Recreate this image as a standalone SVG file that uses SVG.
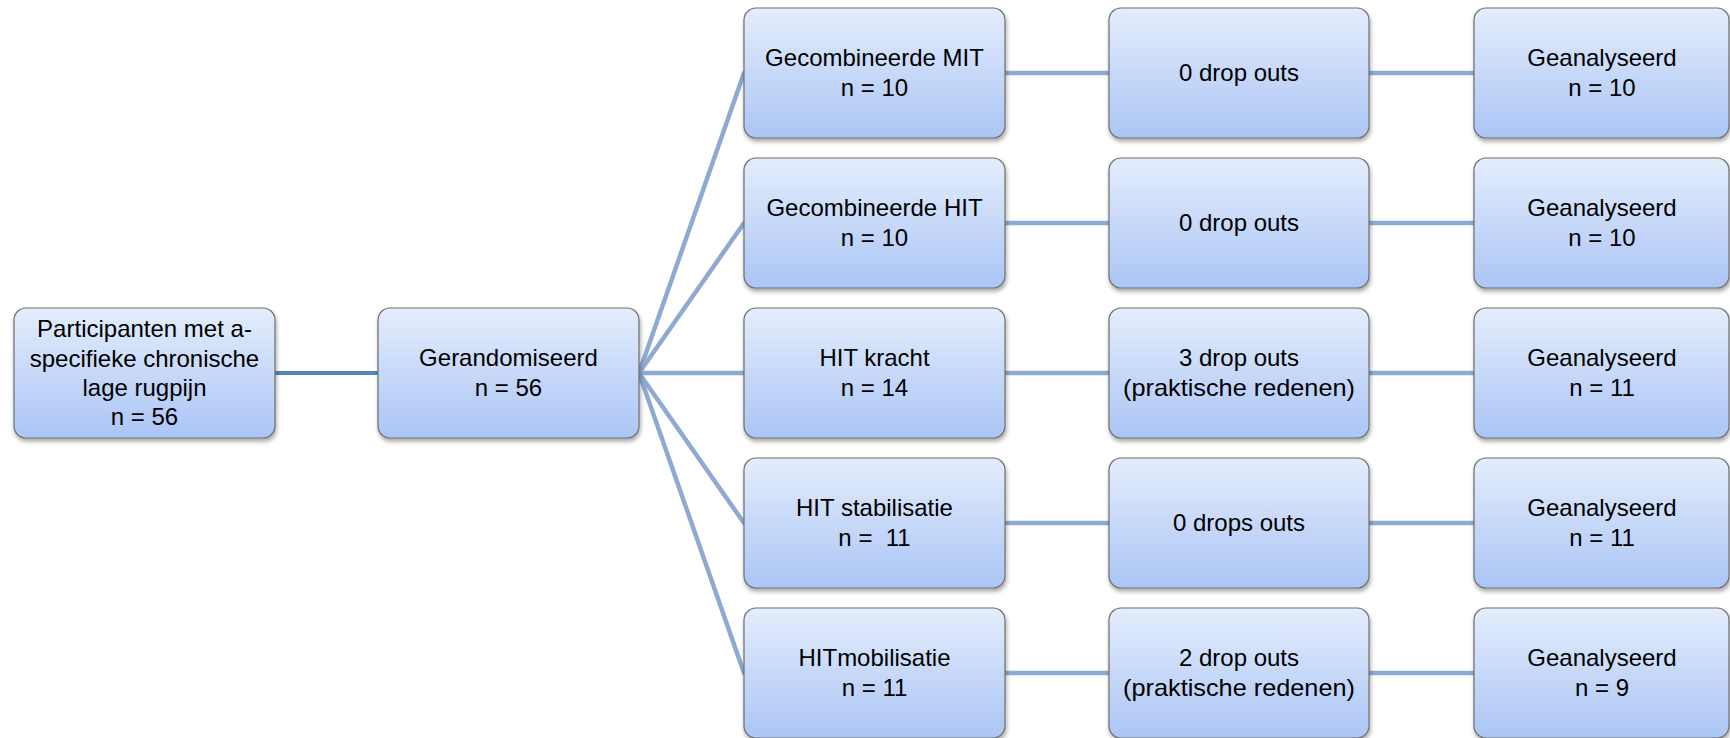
<svg xmlns="http://www.w3.org/2000/svg" width="1730" height="738" viewBox="0 0 1730 738">
<defs>
<linearGradient id="g" x1="0" y1="0" x2="0" y2="1">
<stop offset="0" stop-color="#E4EDFC"/>
<stop offset="1" stop-color="#ABC5F5"/>
</linearGradient>
<filter id="sh" x="-10%" y="-10%" width="120%" height="130%">
<feDropShadow dx="1" dy="3" stdDeviation="2.2" flood-color="#000" flood-opacity="0.35"/>
</filter>
</defs>
<style>
.box{fill:url(#g);stroke:#6E6E6E;stroke-width:1.2;filter:url(#sh)}
text{font-family:"Liberation Sans",Arial,sans-serif;font-size:24px;fill:#000;text-anchor:middle}
.c1{stroke:#5485C0;stroke-width:4;fill:none}
.c2{stroke:#8FAAD2;stroke-width:4.5;fill:none;stroke-linecap:round}
</style>
<rect width="1730" height="738" fill="#fff"/>
<g id="connectors">
<line class="c1" x1="275" y1="373" x2="378" y2="373"/>
<line class="c2" x1="639" y1="373" x2="744" y2="73"/>
<line class="c2" x1="639" y1="373" x2="744" y2="223"/>
<line class="c2" x1="639" y1="373" x2="744" y2="373"/>
<line class="c2" x1="639" y1="373" x2="744" y2="523"/>
<line class="c2" x1="639" y1="373" x2="744" y2="673"/>
<line class="c2" x1="1005" y1="73" x2="1109" y2="73"/>
<line class="c2" x1="1005" y1="223" x2="1109" y2="223"/>
<line class="c2" x1="1005" y1="373" x2="1109" y2="373"/>
<line class="c2" x1="1005" y1="523" x2="1109" y2="523"/>
<line class="c2" x1="1005" y1="673" x2="1109" y2="673"/>
<line class="c2" x1="1369" y1="73" x2="1474" y2="73"/>
<line class="c2" x1="1369" y1="223" x2="1474" y2="223"/>
<line class="c2" x1="1369" y1="373" x2="1474" y2="373"/>
<line class="c2" x1="1369" y1="523" x2="1474" y2="523"/>
<line class="c2" x1="1369" y1="673" x2="1474" y2="673"/>
</g>
<g id="participanten">
<rect class="box" x="14" y="308" width="261" height="130" rx="12"/>
<text x="144.5" y="337">Participanten met a-</text>
<text x="144.5" y="366.5">specifieke chronische</text>
<text x="144.5" y="396">lage rugpijn</text>
<text x="144.5" y="425">n = 56</text>
</g>
<g id="gerandomiseerd">
<rect class="box" x="378" y="308" width="261" height="130" rx="12"/>
<text x="508.5" y="366">Gerandomiseerd</text>
<text x="508.5" y="396">n = 56</text>
</g>
<g id="mit">
<rect class="box" x="744" y="8" width="261" height="130" rx="12"/>
<text x="874.5" y="66">Gecombineerde MIT</text>
<text x="874.5" y="96">n = 10</text>
</g>
<g id="hit">
<rect class="box" x="744" y="158" width="261" height="130" rx="12"/>
<text x="874.5" y="216">Gecombineerde HIT</text>
<text x="874.5" y="246">n = 10</text>
</g>
<g id="kracht">
<rect class="box" x="744" y="308" width="261" height="130" rx="12"/>
<text x="874.5" y="366">HIT kracht</text>
<text x="874.5" y="396">n = 14</text>
</g>
<g id="stabilisatie">
<rect class="box" x="744" y="458" width="261" height="130" rx="12"/>
<text x="874.5" y="516">HIT stabilisatie</text>
<text x="874.5" y="546" xml:space="preserve">n =  11</text>
</g>
<g id="mobilisatie">
<rect class="box" x="744" y="608" width="261" height="130" rx="12"/>
<text x="874.5" y="666">HITmobilisatie</text>
<text x="874.5" y="696">n = 11</text>
</g>
<g id="drop1">
<rect class="box" x="1109" y="8" width="260" height="130" rx="12"/>
<text x="1239" y="81">0 drop outs</text>
</g>
<g id="drop2">
<rect class="box" x="1109" y="158" width="260" height="130" rx="12"/>
<text x="1239" y="231">0 drop outs</text>
</g>
<g id="drop3">
<rect class="box" x="1109" y="308" width="260" height="130" rx="12"/>
<text x="1239" y="366">3 drop outs</text>
<text x="1239" y="396" textLength="232" lengthAdjust="spacingAndGlyphs">(praktische redenen)</text>
</g>
<g id="drop4">
<rect class="box" x="1109" y="458" width="260" height="130" rx="12"/>
<text x="1239" y="531">0 drops outs</text>
</g>
<g id="drop5">
<rect class="box" x="1109" y="608" width="260" height="130" rx="12"/>
<text x="1239" y="666">2 drop outs</text>
<text x="1239" y="696" textLength="232" lengthAdjust="spacingAndGlyphs">(praktische redenen)</text>
</g>
<g id="an1">
<rect class="box" x="1474" y="8" width="255" height="130" rx="12"/>
<text x="1602" y="66">Geanalyseerd</text>
<text x="1602" y="96">n = 10</text>
</g>
<g id="an2">
<rect class="box" x="1474" y="158" width="255" height="130" rx="12"/>
<text x="1602" y="216">Geanalyseerd</text>
<text x="1602" y="246">n = 10</text>
</g>
<g id="an3">
<rect class="box" x="1474" y="308" width="255" height="130" rx="12"/>
<text x="1602" y="366">Geanalyseerd</text>
<text x="1602" y="396">n = 11</text>
</g>
<g id="an4">
<rect class="box" x="1474" y="458" width="255" height="130" rx="12"/>
<text x="1602" y="516">Geanalyseerd</text>
<text x="1602" y="546">n = 11</text>
</g>
<g id="an5">
<rect class="box" x="1474" y="608" width="255" height="130" rx="12"/>
<text x="1602" y="666">Geanalyseerd</text>
<text x="1602" y="696">n = 9</text>
</g>
</svg>
